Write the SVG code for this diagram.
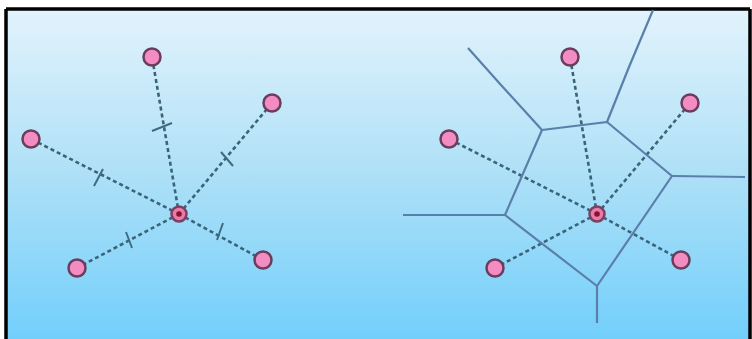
<svg xmlns="http://www.w3.org/2000/svg" width="752" height="339" viewBox="0 0 752 339">
<defs>
<linearGradient id="bg" x1="0" y1="0" x2="0" y2="1">
<stop offset="0" stop-color="#e2f3fc"/>
<stop offset="0.5" stop-color="#aee0f7"/>
<stop offset="1" stop-color="#72cffb"/>
</linearGradient>
<style>
.d{stroke:#3a6578;stroke-width:2.6;stroke-dasharray:4 3;fill:none}
.t{stroke:#3f6a80;stroke-width:2;fill:none}
.v{stroke:#5b7fab;stroke-width:2.2;fill:none;stroke-linejoin:round}
.n{fill:#f28cc3;stroke:#6a3d5c;stroke-width:2.5}
.c{fill:#e87aa8;stroke:#7a4060;stroke-width:2.5}
.cd{fill:#8a1030}
</style>
</defs>
<rect x="0" y="0" width="752" height="339" fill="#ffffff"/>
<rect x="6" y="9" width="744" height="330" fill="url(#bg)"/>
<path d="M6 9H750M6 9V339M750 9V339" stroke="#000" stroke-width="3.5" fill="none"/>
<g id="connectors">
<line class="d" x1="179" y1="214" x2="152" y2="57"/>
<line class="d" x1="179" y1="214" x2="272" y2="103"/>
<line class="d" x1="179" y1="214" x2="31" y2="139"/>
<line class="d" x1="179" y1="214" x2="77" y2="268"/>
<line class="d" x1="179" y1="214" x2="263" y2="260"/>
<line class="t" x1="152" y1="131" x2="172" y2="123"/>
<line class="t" x1="221" y1="152" x2="233" y2="166"/>
<line class="t" x1="94" y1="186" x2="103" y2="169"/>
<line class="t" x1="126" y1="232" x2="132" y2="248"/>
<line class="t" x1="223" y1="223" x2="217" y2="240"/>
<line class="d" x1="597" y1="214" x2="570" y2="57"/>
<line class="d" x1="597" y1="214" x2="690" y2="103"/>
<line class="d" x1="597" y1="214" x2="449" y2="139"/>
<line class="d" x1="597" y1="214" x2="495" y2="268"/>
<line class="d" x1="597" y1="214" x2="681" y2="260"/>
<polygon class="v" points="542,130 607,122 672,176 597,286 505,215"/>
<polyline class="v" points="542,130 501,85 468,48"/>
<polyline class="v" points="607,122 629,67 653,10"/>
<polyline class="v" points="672,176 745,177"/>
<polyline class="v" points="505,215 403,215"/>
<polyline class="v" points="597,286 597,323"/>
</g>
<g id="n1"><circle class="n" cx="152" cy="57" r="8.5"/></g>
<g id="n2"><circle class="n" cx="272" cy="103" r="8.5"/></g>
<g id="n3"><circle class="n" cx="31" cy="139" r="8.5"/></g>
<g id="n4"><circle class="n" cx="77" cy="268" r="8.5"/></g>
<g id="n5"><circle class="n" cx="263" cy="260" r="8.5"/></g>
<g id="n6"><circle class="c" cx="179" cy="214" r="7.5"/><circle class="cd" cx="179" cy="214" r="2.8"/></g>
<g id="m1"><circle class="n" cx="570" cy="57" r="8.5"/></g>
<g id="m2"><circle class="n" cx="690" cy="103" r="8.5"/></g>
<g id="m3"><circle class="n" cx="449" cy="139" r="8.5"/></g>
<g id="m4"><circle class="n" cx="495" cy="268" r="8.5"/></g>
<g id="m5"><circle class="n" cx="681" cy="260" r="8.5"/></g>
<g id="m6"><circle class="c" cx="597" cy="214" r="7.5"/><circle class="cd" cx="597" cy="214" r="2.8"/></g>
</svg>
